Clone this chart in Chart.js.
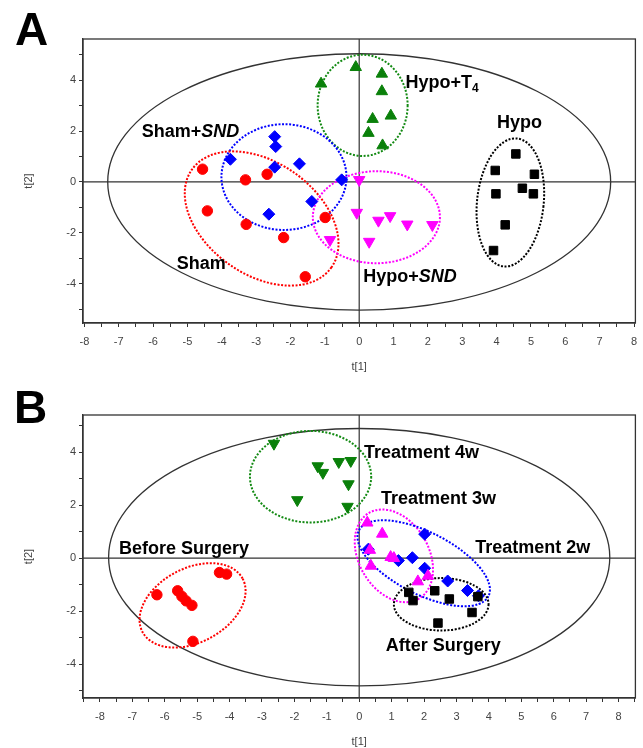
<!DOCTYPE html>
<html>
<head>
<meta charset="utf-8">
<script src="https://cdn.jsdelivr.net/npm/chart.js@4.4.1/dist/chart.umd.min.js"></script>
<style>
    html, body { margin: 0; padding: 0; background: #fff; }
    body { width: 643px; height: 748px; position: relative; overflow: hidden; }
    .panel { position: absolute; left: 0; width: 643px; height: 375px; }
    #wrapA { top: 0; }
    #wrapB { top: 375px; }
    .letter { position: absolute; font: bold 46px "Liberation Sans", Arial, sans-serif; line-height: 46px; color: #000; }
</style>
</head>
<body>
<div class="panel" id="wrapA"><canvas id="chartA" width="643" height="375"></canvas></div>
<div class="panel" id="wrapB"><canvas id="chartB" width="643" height="375"></canvas></div>
<div class="letter" style="left:15px;top:6px">A</div>
<div class="letter" style="left:14px;top:384px">B</div>
<script>
// PCA score plots, t[1] vs t[2]. Panel A: groups; panel B: time course.

// ---- Panel A scores ----
const shamT1 = [-4.56, -4.42, -3.31, -2.68, -3.29, -2.20, -1.57, -0.99];
const shamT2 = [0.50, -1.14, 0.08, 0.30, -1.67, -2.19, -3.73, -1.40];
const shamSndT1 = [-3.75, -2.46, -2.43, -2.46, -1.74, -2.63, -1.38, -0.51];
const shamSndT2 = [0.89, 1.78, 1.39, 0.58, 0.71, -1.27, -0.77, 0.08];
const hypoT4T1 = [-1.11, -0.10, 0.66, 0.66, 0.39, 0.92, 0.27, 0.68];
const hypoT4T2 = [3.86, 4.51, 4.25, 3.56, 2.47, 2.60, 1.92, 1.43];
const hypoSndT1 = [0.00, -0.07, 0.56, 0.90, 1.40, 2.13, 0.29, -0.85];
const hypoSndT2 = [0.08, -1.21, -1.52, -1.34, -1.67, -1.69, -2.35, -2.28];
const hypoT1 = [4.56, 3.96, 5.10, 4.75, 5.07, 3.98, 4.25, 3.91];
const hypoT2 = [1.10, 0.45, 0.30, -0.25, -0.47, -0.47, -1.69, -2.70];

// ---- Panel B scores ----
const beforeT1 = [-6.24, -5.60, -5.47, -5.34, -5.16, -4.31, -4.09, -5.13];
const beforeT2 = [-1.38, -1.23, -1.44, -1.61, -1.78, -0.54, -0.60, -3.14];
const wk4T1 = [-2.63, -1.28, -1.12, -0.63, -0.26, -0.33, -1.91, -0.36];
const wk4T2 = [4.33, 3.48, 3.23, 3.64, 3.68, 2.80, 2.20, 1.95];
const wk3T1 = [0.25, 0.71, 0.33, 0.97, 1.07, 0.36, 1.81, 2.12];
const wk3T2 = [1.34, 0.92, 0.31, 0.04, 0.00, -0.29, -0.88, -0.67];
const wk2T1 = [2.02, 0.28, 1.21, 1.64, 2.02, 2.73, 3.34, 3.68];
const wk2T2 = [0.91, 0.34, -0.09, 0.02, -0.38, -0.86, -1.22, -1.42];
const afterT1 = [1.53, 1.66, 2.33, 2.78, 3.66, 3.48, 2.43];
const afterT2 = [-1.29, -1.60, -1.23, -1.54, -1.45, -2.05, -2.45];

// axis ranges and tick labels
const rangeA = { x: [-8.04, 8.04], y: [-5.55, 5.62] };
const rangeB = { x: [-8.52, 8.52], y: [-5.28, 5.41] };
const xTickLabels = [-8, -7, -6, -5, -4, -3, -2, -1, 0, 1, 2, 3, 4, 5, 6, 7, 8];
const yTickLabels = [-4, -2, 0, 2, 4];

// confidence ellipses: centre, semi-axes (data units), screen rotation in degrees
const ellipsesA = [
    { cx: 0, cy: 0, rx: 7.32, ry: 5.04, rot: 0, color: "#333333", dotted: false },
    { cx: 0.10, cy: 3.01, rx: 1.31, ry: 1.99, rot: 0, color: "#138a13", dotted: true },
    { cx: -2.19, cy: 0.19, rx: 1.82, ry: 2.08, rot: 0, color: "#0000ff", dotted: true },
    { cx: -2.84, cy: -1.44, rx: 2.48, ry: 2.21, rot: 35, color: "#ff0000", dotted: true },
    { cx: 0.50, cy: -1.39, rx: 1.85, ry: 1.81, rot: 0, color: "#ff00ff", dotted: true },
    { cx: 4.40, cy: -0.81, rx: 0.97, ry: 2.53, rot: 6, color: "#000000", dotted: true }
];
const ellipsesB = [
    { cx: 0, cy: 0.04, rx: 7.73, ry: 4.86, rot: 0, color: "#333333", dotted: false },
    { cx: -1.50, cy: 3.08, rx: 1.87, ry: 1.73, rot: 0, color: "#138a13", dotted: true },
    { cx: -5.14, cy: -1.78, rx: 1.75, ry: 1.40, rot: -28, color: "#ff0000", dotted: true },
    { cx: 1.07, cy: 0.09, rx: 1.53, ry: 1.32, rot: 60, color: "#ff00ff", dotted: true },
    { cx: 1.99, cy: -0.19, rx: 2.24, ry: 1.17, rot: 27, color: "#0000ff", dotted: true },
    { cx: 2.53, cy: -1.74, rx: 1.46, ry: 0.99, rot: 0, color: "#000000", dotted: true }
];

// group labels, anchored at their left baseline in data units
const labelsA = [
    { x: -6.33, y: 1.78, runs: [{ t: "Sham+" }, { t: "SND", it: true }] },
    { x: 1.35, y: 3.69, runs: [{ t: "Hypo+T" }, { t: "4", sub: true }] },
    { x: 4.01, y: 2.11, runs: [{ t: "Hypo" }] },
    { x: -5.31, y: -3.44, runs: [{ t: "Sham" }] },
    { x: 0.12, y: -3.95, runs: [{ t: "Hypo+" }, { t: "SND", it: true }] }
];
const labelsB = [
    { x: -7.41, y: 0.15, runs: [{ t: "Before Surgery" }] },
    { x: 0.15, y: 3.80, runs: [{ t: "Treatment 4w" }] },
    { x: 0.67, y: 2.04, runs: [{ t: "Treatment 3w" }] },
    { x: 3.58, y: 0.19, runs: [{ t: "Treatment 2w" }] },
    { x: 0.82, y: -3.50, runs: [{ t: "After Surgery" }] }
];

const FONT = '"Liberation Sans", Arial, sans-serif';
const AXIS_COLOR = "#333333";

function pts(xs, ys) {
    return xs.map((x, i) => ({ x, y: ys[i] }));
}

function group(xs, ys, color, style, radius, rotation) {
    return {
        data: pts(xs, ys),
        pointStyle: style,
        pointRadius: radius,
        pointHoverRadius: radius,
        rotation: rotation || 0,
        backgroundColor: color,
        borderColor: color,
        borderWidth: 1
    };
}

// zero lines, ellipses, labels and the closed frame
const decorPlugin = {
    id: "decor",
    beforeDatasetsDraw(chart, args, opts) {
        const { ctx, chartArea: a, scales: { x, y } } = chart;
        ctx.save();
        const x0 = x.getPixelForValue(0), y0 = y.getPixelForValue(0);
        ctx.strokeStyle = AXIS_COLOR;
        ctx.lineWidth = 1.2;
        ctx.beginPath();
        ctx.moveTo(a.left, y0); ctx.lineTo(a.right, y0);
        ctx.moveTo(x0, a.top); ctx.lineTo(x0, a.bottom);
        ctx.stroke();

        const ux = x.getPixelForValue(1) - x.getPixelForValue(0);
        const uy = y.getPixelForValue(0) - y.getPixelForValue(1);
        for (const e of opts.ellipses) {
            ctx.beginPath();
            ctx.ellipse(x.getPixelForValue(e.cx), y.getPixelForValue(e.cy),
                e.rx * ux, e.ry * uy, e.rot * Math.PI / 180, 0, Math.PI * 2);
            ctx.strokeStyle = e.color;
            ctx.lineWidth = e.dotted ? 2 : 1.3;
            ctx.setLineDash(e.dotted ? [2, 1.6] : []);
            ctx.stroke();
        }
        ctx.restore();
    },
    afterDatasetsDraw(chart, args, opts) {
        const { ctx, chartArea: a, scales: { x, y } } = chart;
        ctx.save();
        ctx.fillStyle = "#000";
        ctx.textBaseline = "alphabetic";
        ctx.textAlign = "left";
        for (const lab of opts.labels) {
            let px = x.getPixelForValue(lab.x);
            const py = y.getPixelForValue(lab.y);
            for (const r of lab.runs) {
                ctx.font = r.sub ? `bold 12px ${FONT}` : `${r.it ? "italic " : ""}bold 18px ${FONT}`;
                ctx.fillText(r.t, px, r.sub ? py + 4 : py);
                px += ctx.measureText(r.t).width;
            }
        }
        ctx.strokeStyle = AXIS_COLOR;
        ctx.lineWidth = 1.3;
        ctx.strokeRect(a.left, a.top, a.right - a.left, a.bottom - a.top);
        ctx.restore();
    }
};

function scoreOptions(range, padTop, xAxisHeight, ellipses, labels) {
    const tickFont = { family: FONT, size: 11 };
    return {
        responsive: false,
        animation: false,
        layout: { padding: { left: 18, right: 5, top: padTop, bottom: 0 } },
        plugins: {
            legend: { display: false },
            tooltip: { enabled: false },
            decor: { ellipses, labels }
        },
        scales: {
            x: {
                type: "linear",
                min: range.x[0], max: range.x[1],
                afterFit: s => {
                    s.height = xAxisHeight;
                    s.paddingLeft = 0;
                    s.paddingRight = 0;
                },
                border: { display: true, color: AXIS_COLOR, width: 1.3 },
                grid: { drawOnChartArea: false, drawTicks: true, tickLength: 4, color: AXIS_COLOR, lineWidth: 1 },
                ticks: {
                    stepSize: 0.5, autoSkip: false, includeBounds: false, maxRotation: 0,
                    padding: 8, color: "#444", font: tickFont,
                    callback: v => xTickLabels.includes(v) ? String(v) : ""
                },
                title: { display: true, text: "t[1]", color: "#444", font: tickFont, padding: { top: 4, bottom: 1 } }
            },
            y: {
                type: "linear",
                min: range.y[0], max: range.y[1],
                afterFit: s => {
                    s.width = 65;
                    s.paddingTop = 0;
                    s.paddingBottom = 0;
                },
                border: { display: true, color: AXIS_COLOR, width: 1.3 },
                grid: { drawOnChartArea: false, drawTicks: true, tickLength: 4, color: AXIS_COLOR, lineWidth: 1 },
                ticks: {
                    stepSize: 1, autoSkip: false, includeBounds: false,
                    padding: 3, color: "#444", font: tickFont,
                    callback: v => yTickLabels.includes(v) ? String(v) : ""
                },
                title: { display: true, text: "t[2]", color: "#444", font: tickFont, padding: 4 }
            }
        }
    };
}

new Chart(document.getElementById("chartA"), {
    type: "scatter",
    data: {
        datasets: [
            group(shamT1, shamT2, "#ff0000", "circle", 5.2),
            group(shamSndT1, shamSndT2, "#0000ff", "rectRot", 6),
            group(hypoT4T1, hypoT4T2, "#0a800a", "triangle", 6.6),
            group(hypoSndT1, hypoSndT2, "#ff00ff", "triangle", 6.6, 180),
            group(hypoT1, hypoT2, "#000000", "rect", 6)
        ]
    },
    options: scoreOptions(rangeA, 39, 52, ellipsesA, labelsA),
    plugins: [decorPlugin]
});

new Chart(document.getElementById("chartB"), {
    type: "scatter",
    data: {
        datasets: [
            group(beforeT1, beforeT2, "#ff0000", "circle", 5.2),
            group(wk4T1, wk4T2, "#0a800a", "triangle", 6.6, 180),
            group(afterT1, afterT2, "#000000", "rect", 6),
            group(wk3T1, wk3T2, "#ff00ff", "triangle", 6.6),
            group(wk2T1, wk2T2, "#0000ff", "rectRot", 6)
        ]
    },
    options: scoreOptions(rangeB, 40, 52, ellipsesB, labelsB),
    plugins: [decorPlugin]
});
</script>
</body>
</html>
